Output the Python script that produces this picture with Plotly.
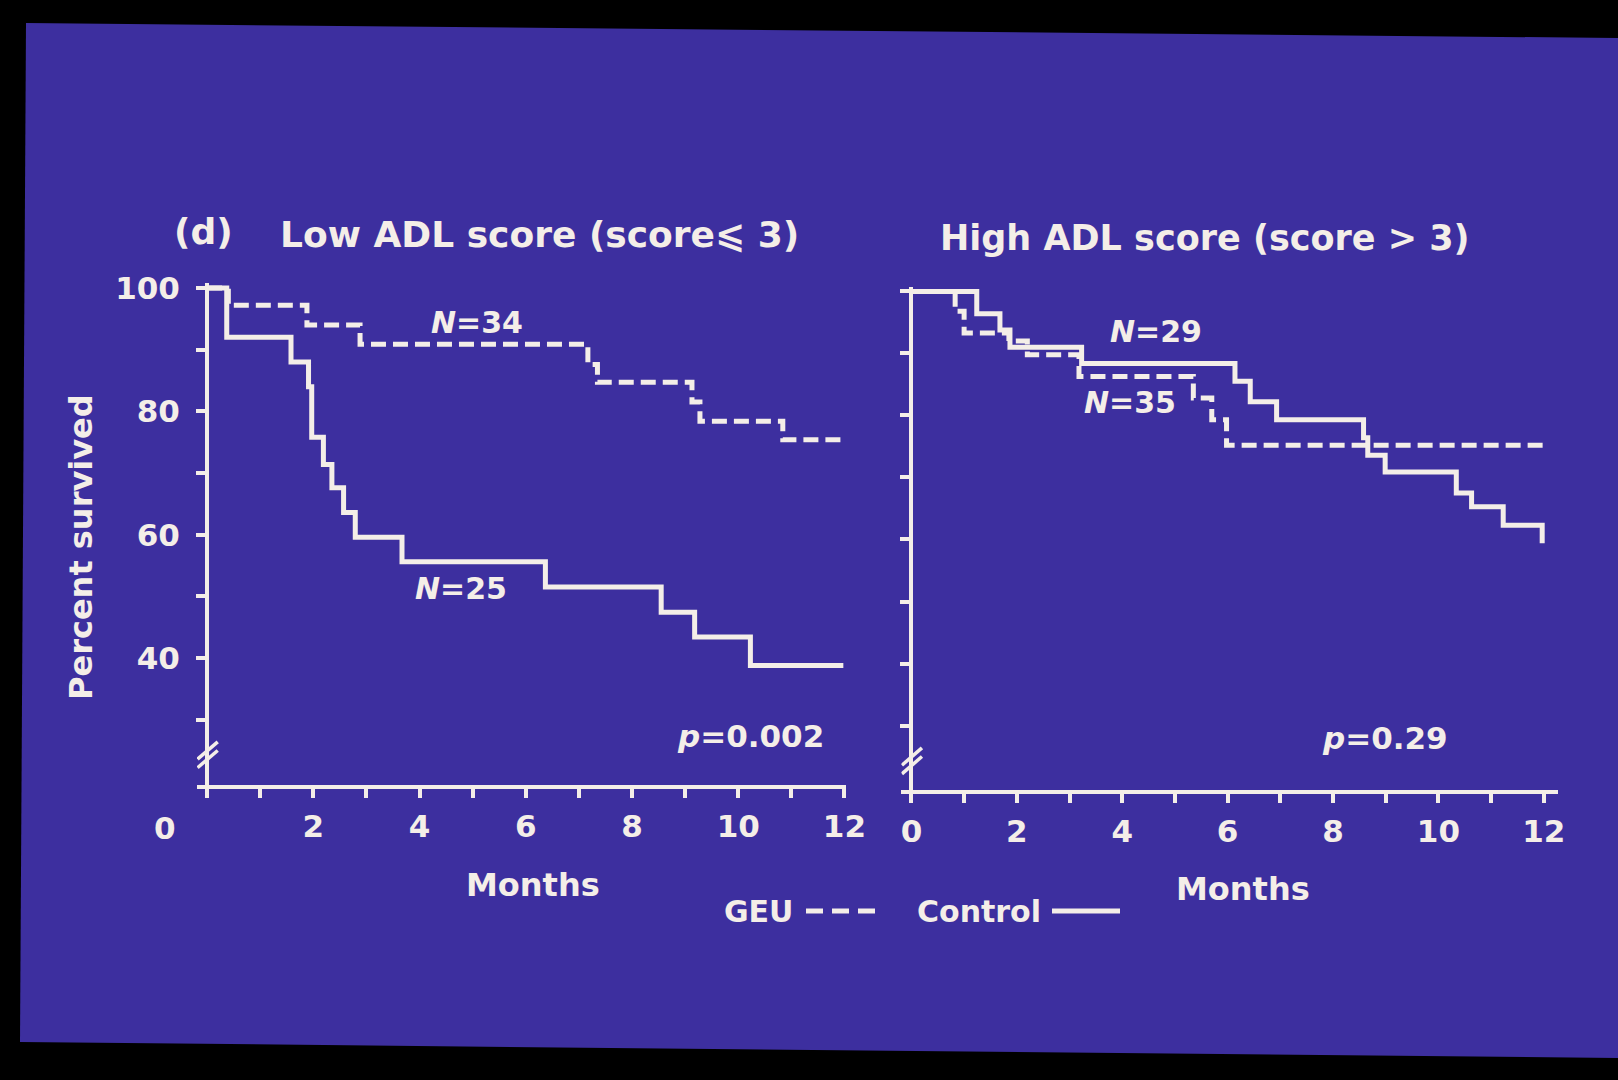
import plotly.graph_objects as go

# ---------------- data ----------------
months = list(range(0, 13))
x_ticktext_left = ["" if (m == 0 or m % 2) else str(m) for m in months]
x_ticktext_right = ["0" if m == 0 else ("" if m % 2 else str(m)) for m in months]
y_tickvals = [30, 40, 50, 60, 70, 80, 90, 100]
y_ticktext_left = ["", "40", "", "60", "", "80", "", "100"]

# Low ADL score (score <= 3)
low_geu_t = [0, 0.40, 1.88, 2.88, 7.17, 7.35, 9.13, 9.28, 10.84]
low_geu_s = [100, 97.2, 94.0, 90.9, 87.6, 84.7, 81.5, 78.4, 75.4]
low_geu_end = 11.98
low_ctl_t = [0, 0.37, 1.58, 1.91, 1.97, 2.19, 2.35, 2.57, 2.79, 3.67, 6.37, 8.55, 9.18, 10.23]
low_ctl_s = [100, 92.0, 88.0, 84.0, 75.8, 71.4, 67.6, 63.6, 59.6, 55.6, 51.5, 47.4, 43.4, 38.8]
low_ctl_end = 11.98

# High ADL score (score > 3)
high_geu_t = [0, 0.83, 1.00, 1.85, 2.20, 3.18, 5.35, 5.70, 5.98]
high_geu_s = [100, 96.8, 93.3, 92.0, 89.8, 86.3, 82.8, 79.3, 75.2]
high_geu_end = 12.0
high_ctl_t = [0, 1.24, 1.68, 1.87, 3.23, 6.14, 6.43, 6.93, 8.58, 8.66, 8.99, 10.34, 10.63, 11.23, 11.97]
high_ctl_s = [100, 96.4, 93.8, 91.0, 88.4, 85.5, 82.2, 79.3, 76.4, 73.6, 70.9, 67.5, 65.3, 62.3, 59.4]
high_ctl_end = 11.97

# ---------------- styling ----------------
W, H = 1618, 1080
C = "#f4eee8"
BG = "#3d2f9f"
F = "DejaVu Sans"


def px(x):
    return x / W


def py(y):
    return 1 - y / H


def step_xy(t, s, end):
    return list(t) + [end], list(s) + [s[-1]]


fig = go.Figure()
dash = "15px,7px"
for (t, s, e, ax, ay, d) in [
    (low_geu_t, low_geu_s, low_geu_end, "x", "y", dash),
    (low_ctl_t, low_ctl_s, low_ctl_end, "x", "y", "solid"),
    (high_geu_t, high_geu_s, high_geu_end, "x2", "y2", dash),
    (high_ctl_t, high_ctl_s, high_ctl_end, "x2", "y2", "solid"),
]:
    xs, ys = step_xy(t, s, e)
    fig.add_trace(go.Scatter(x=xs, y=ys, mode="lines", xaxis=ax, yaxis=ay,
                             line=dict(color=C, width=5, shape="hv", dash=d),
                             showlegend=False, hoverinfo="skip"))

tickfont = dict(size=31, color=C, family=F, weight="bold")
common_x = dict(showline=True, linewidth=4, linecolor=C, ticks="outside", ticklen=9,
                tickwidth=4, tickcolor=C, tickvals=months, tickfont=tickfont,
                showgrid=False, zeroline=False, ticklabelstandoff=2, automargin=False)
common_y = dict(showline=True, linewidth=4, linecolor=C, ticks="outside", ticklen=9,
                tickwidth=4, tickcolor=C, tickvals=y_tickvals, tickfont=tickfont,
                showgrid=False, zeroline=False, anchor="free", ticklabelstandoff=10,
                automargin=False)

fig.update_layout(
    width=W, height=H,
    margin=dict(l=0, r=0, t=0, b=0, pad=0, autoexpand=False),
    paper_bgcolor="black",
    plot_bgcolor="rgba(0,0,0,0)",
    xaxis=dict(domain=[px(197), px(846)], range=[-0.19, 12.03], anchor="y",
               ticktext=x_ticktext_left, **common_x),
    yaxis=dict(domain=[py(785), py(283.1)], range=[19.4, 100.8], position=px(207.1),
               ticktext=y_ticktext_left, **common_y),
    xaxis2=dict(domain=[px(901.4), px(1558)], range=[-0.19, 12.27], anchor="y2",
                ticktext=x_ticktext_right, **common_x),
    yaxis2=dict(domain=[py(790), py(286.5)], range=[19.6, 100.8], position=px(911.4),
                showticklabels=False, **{k: v for k, v in common_y.items() if k != "tickfont"}),
)

shapes = []
# slide background
shapes.append(dict(type="path", xref="paper", yref="paper", layer="below",
                   path=f"M {px(26)},{py(23)} L 1,{py(38)} L 1,{py(1058)} L {px(20)},{py(1042)} Z",
                   fillcolor=BG, line=dict(width=0)))
# axis break marks
for xr, yr in [("x", "y"), ("x2", "y2")]:
    for v in (23.6, 25.0):
        shapes.append(dict(type="line", xref=xr, yref=yr, x0=-0.18, x1=0.2,
                           y0=v - 1.4, y1=v + 1.4, line=dict(color=C, width=3.5)))
# legend samples
shapes.append(dict(type="line", xref="paper", yref="paper", x0=px(806), x1=px(876),
                   y0=py(911), y1=py(911), line=dict(color=C, width=5, dash="17px,9px")))
shapes.append(dict(type="line", xref="paper", yref="paper", x0=px(1052), x1=px(1120),
                   y0=py(911), y1=py(911), line=dict(color=C, width=5)))
fig.update_layout(shapes=shapes)


def ann(text, x, y, size=32, angle=0, xanchor="center"):
    fig.add_annotation(text=text, x=px(x), y=py(y), xref="paper", yref="paper",
                       showarrow=False, xanchor=xanchor, yanchor="middle", textangle=angle,
                       font=dict(size=size, color=C, family=F, weight="bold"))


ann("(d)", 204, 232, 36)
ann("Low ADL score (score⩽ 3)", 539, 234, 36)
ann("High ADL score (score > 3)", 1205, 238, 35)
ann("<i>N</i>=34", 477, 322, 30)
ann("<i>N</i>=25", 461, 588, 30)
ann("<i>N</i>=29", 1156, 332, 30)
ann("<i>N</i>=35", 1130, 402, 30)
ann("<i>p</i>=0.002", 750, 736, 31)
ann("<i>p</i>=0.29", 1385, 738, 31)
ann("Months", 533, 885, 32)
ann("Months", 1243, 889, 32)
ann("GEU", 758, 911, 30)
ann("Control", 979, 911, 30)
ann("Percent survived", 81, 547, 32, angle=-90)
ann("0", 165, 828, 31)

fig.write_html("out.html")
